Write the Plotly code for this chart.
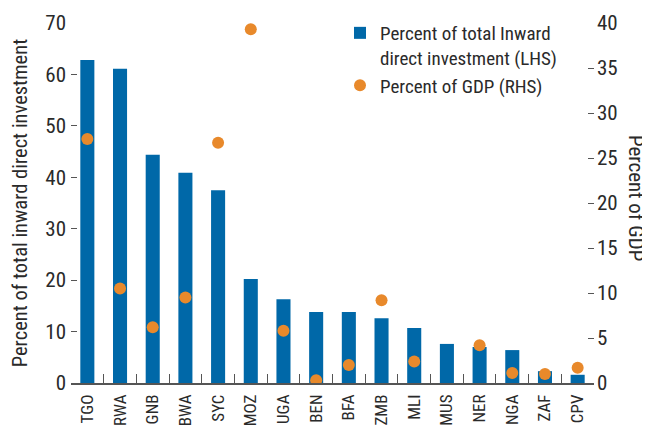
import plotly.graph_objects as go

countries = ["TGO", "RWA", "GNB", "BWA", "SYC", "MOZ", "UGA", "BEN", "BFA",
             "ZMB", "MLI", "MUS", "NER", "NGA", "ZAF", "CPV"]
pct_inward = [62.8, 61.1, 44.4, 40.9, 37.5, 20.2, 16.3, 13.8, 13.8,
              12.6, 10.7, 7.6, 7.0, 6.4, 2.3, 1.6]
pct_gdp = [27.1, 10.5, 6.2, 9.5, 26.7, 39.3, 5.8, 0.3, 2.0,
           9.2, 2.4, None, 4.2, 1.1, 1.0, 1.7]

FONT = "Roboto Condensed, Liberation Sans Narrow, Arial Narrow, sans-serif"
TXT = "#2a2a2a"
AX = "#555555"

# The page body adds an 8px margin, so the figure is drawn 8px smaller and
# all layout positions below are given in figure pixels (screen - 8).
OFF = 8
W, H = 650 - OFF, 426 - OFF
ML, MR, MT, MB = 71 - OFF, 0, 0, 43
PLOT_R, PLOT_T = 594 - OFF, 23 - OFF
PW, PH = W - ML - MR, H - MT - MB
XDOM = (PLOT_R - ML) / PW
YDOM = (H - MB - PLOT_T) / PH

def px_x(sx):
    return (sx - OFF - ML) / PW

def px_y(sy):
    return (H - MB - (sy - OFF)) / PH

fig = go.Figure()
fig.add_trace(go.Bar(
    x=countries, y=pct_inward,
    name="Percent of total Inward<br>direct investment (LHS)",
    marker=dict(color="#0068A8", line=dict(width=0)),
    width=0.43, legendgroup="a",
))
fig.add_trace(go.Scatter(
    x=countries, y=pct_gdp, yaxis="y2", mode="markers",
    name="Percent of GDP (RHS)",
    marker=dict(color="#E8892B", size=12), legendgroup="b",
))

fig.update_layout(
    width=W, height=H,
    margin=dict(l=ML, r=MR, t=MT, b=MB, autoexpand=False),
    plot_bgcolor="white", paper_bgcolor="white",
    font=dict(family=FONT, size=20, color=TXT),
    showlegend=True,
    legend=dict(x=px_x(340), y=px_y(14), xanchor="left", yanchor="top",
                bgcolor="rgba(0,0,0,0)", font=dict(family=FONT, size=19, color=TXT),
                itemsizing="constant", valign="top", itemwidth=30,
                tracegroupgap=0),
    xaxis=dict(
        domain=[0, XDOM], range=[-0.5, len(countries) - 0.5], autorange=False,
        type="category", showline=True, linecolor=AX, linewidth=1.5,
        ticks="inside", tickson="boundaries", ticklen=9, tickcolor=AX,
        tickangle=-90, tickfont=dict(family=FONT, size=17, color=TXT), showgrid=False,
        ticklabelstandoff=3, automargin=False,
    ),
    yaxis=dict(
        domain=[0, YDOM],
        range=[0, 70], dtick=10, showgrid=False, zeroline=False, showline=False,
        ticks="inside", ticklen=6, tickcolor=AX, tickwidth=1,
        tickfont=dict(family=FONT, size=21, color=TXT), automargin=False,
        ticklabelstandoff=4,
        title=dict(text="Percent of total inward direct investment",
                   font=dict(family=FONT, size=20.5, color=TXT), standoff=13),
    ),
    yaxis2=dict(
        range=[0, 40], dtick=5, overlaying="y", side="right",
        showgrid=False, zeroline=False, showline=False,
        ticks="inside", ticklen=6, tickcolor=AX, tickwidth=1,
        tickfont=dict(family=FONT, size=21, color=TXT), automargin=False,
        ticklabelstandoff=2,
    ),
    annotations=[dict(
        text="Percent of GDP", textangle=90, x=px_x(636), y=px_y(198),
        xref="paper", yref="paper", xanchor="center", yanchor="middle",
        showarrow=False, font=dict(family=FONT, size=21, color=TXT),
    )],
)

fig.write_html("out.html")
